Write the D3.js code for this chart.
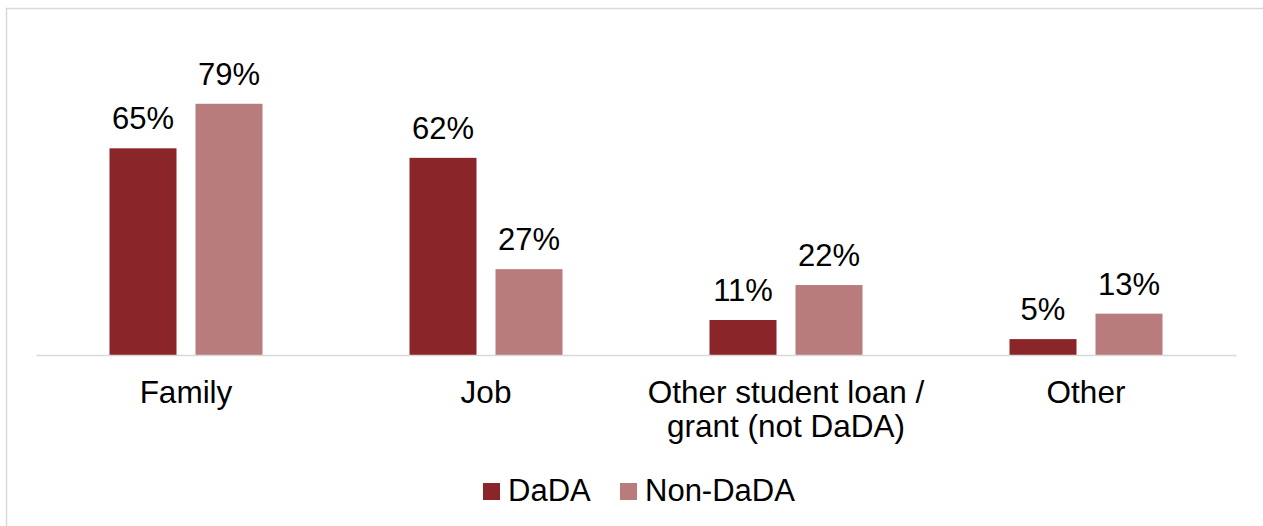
<!DOCTYPE html>
<html>
<head>
<meta charset="utf-8">
<script src="https://cdn.jsdelivr.net/npm/d3@7"></script>
<style>
  html, body { margin: 0; padding: 0; background: #fff; }
  svg { display: block; font-family: Arial, "Liberation Sans", sans-serif; }
</style>
</head>
<body>
<svg id="chart" width="1263" height="526"></svg>
<script>
// Funding sources by student group
const categories = [["Family"], ["Job"], ["Other student loan /", "grant (not DaDA)"], ["Other"]];
const seriesNames = ["DaDA", "Non-DaDA"];
const dadaValues = [0.65, 0.62, 0.11, 0.05];
const nonDadaValues = [0.79, 0.27, 0.22, 0.13];
const colors = ["#8a252a", "#b97c7d"];

const svg = d3.select("#chart");
const W = 1263, H = 526;

// outer frame (runs off the right and bottom edges)
svg.append("rect")
  .attr("x", 6.5).attr("y", 8.5)
  .attr("width", W + 20).attr("height", H + 20)
  .attr("fill", "none").attr("stroke", "#d9d9d9").attr("stroke-width", 1.5);

const plot = { left: 36, right: 1236, top: 37, bottom: 355 };

const x0 = d3.scaleBand()
  .domain(d3.range(categories.length))
  .range([plot.left, plot.right])
  .paddingInner(0).paddingOuter(0);

// two bars per group: 67px wide with a 19px gap
const groupWidth = 153;
const x1 = d3.scaleBand()
  .domain(d3.range(seriesNames.length))
  .range([0, groupWidth])
  .paddingInner(19 / 86);

const y = d3.scaleLinear().domain([0, 1]).range([plot.bottom, plot.top]);

const rows = categories.map((c, i) => ({ i, label: c, values: [dadaValues[i], nonDadaValues[i]] }));

const groups = svg.selectAll("g.group").data(rows).enter().append("g")
  .attr("class", "group")
  .attr("transform", d => `translate(${x0(d.i) + (x0.bandwidth() - groupWidth) / 2},0)`);

groups.selectAll("rect").data(d => d.values.map((v, s) => ({ v, s }))).enter().append("rect")
  .attr("x", d => x1(d.s))
  .attr("width", x1.bandwidth())
  .attr("y", d => y(d.v))
  .attr("height", d => y(0) - y(d.v))
  .attr("fill", d => colors[d.s]);

groups.selectAll("text.val").data(d => d.values.map((v, s) => ({ v, s }))).enter().append("text")
  .attr("class", "val")
  .attr("x", d => x1(d.s) + x1.bandwidth() / 2)
  .attr("y", d => y(d.v) - 19)
  .attr("text-anchor", "middle")
  .attr("font-size", 31)
  .attr("fill", "#000")
  .text(d => d3.format(".0%")(d.v));

// category axis
const xAxis = d3.axisBottom(x0).tickSize(0).tickFormat("");
const axisG = svg.append("g").attr("transform", `translate(0,${plot.bottom})`).call(xAxis);
axisG.select(".domain").attr("stroke", "#d9d9d9").attr("stroke-width", 1.5);

axisG.selectAll(".tick").each(function (d) {
  const t = d3.select(this).append("text")
    .attr("text-anchor", "middle")
    .attr("font-size", 31.5)
    .attr("fill", "#000");
  categories[d].forEach((line, k) => {
    t.append("tspan").attr("x", 0).attr("y", 48 + k * 34).text(line);
  });
});

// legend
const legend = svg.append("g").attr("transform", "translate(483,483)");
const legendOffsets = [0, 137];
seriesNames.forEach((name, s) => {
  const g = legend.append("g").attr("transform", `translate(${legendOffsets[s]},0)`);
  g.append("rect").attr("width", 17).attr("height", 17).attr("fill", colors[s]);
  g.append("text").attr("x", 25).attr("y", 18)
    .attr("font-size", 31).attr("fill", "#000").text(name);
});
</script>
</body>
</html>
